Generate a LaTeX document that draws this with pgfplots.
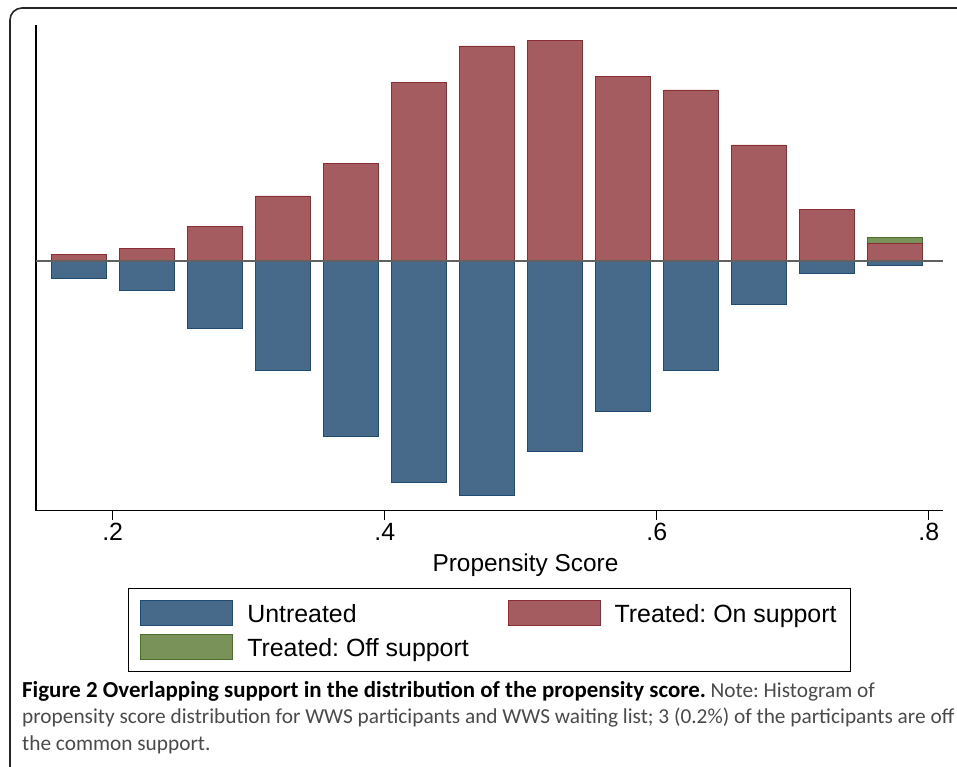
\documentclass[border=0pt]{standalone}
\usepackage{fontspec}
\setmainfont{Liberation Sans}
\newfontfamily\capfont{Carlito}
\usepackage{pgfplots}
\usepackage{pgfplotstable}
\pgfplotsset{compat=1.18}
\frenchspacing
\definecolor{untr}{HTML}{486A8A}
\definecolor{untredge}{HTML}{1F4A72}
\definecolor{tron}{HTML}{A55C60}
\definecolor{tronedge}{HTML}{8A2E36}
\definecolor{troff}{HTML}{78925A}
\definecolor{troffedge}{HTML}{4E6E2E}
\definecolor{notegray}{HTML}{4A4A4A}
\pgfplotstableread{
x untreated on
0.175 -17 6.3
0.225 -29.5 12.3
0.275 -67 34.7
0.325 -109 65
0.375 -175 97.7
0.425 -221 178.7
0.475 -234 215
0.525 -190.3 220.7
0.575 -150.7 184.7
0.625 -109 171
0.675 -43 116
0.725 -12.3 51.7
0.775 -4.3 17.7
}\data
\pgfplotstableread{
x off
0.775 23.3
}\offdata
\begin{document}
\begin{tikzpicture}
\useasboundingbox (0,0) rectangle (957bp,767bp);
\draw[line width=1.6bp, black!85, rounded corners=12bp] (10bp,759bp) rectangle (990bp,-30bp);
\begin{axis}[
  at={(36bp,256.3bp)}, anchor=south west,
  scale only axis, width=907.3bp, height=485.7bp,
  xmin=0.1436, xmax=0.8107, ymin=-249.7, ymax=236,
  axis x line*=bottom, axis y line*=left,
  axis line style={line width=1.2bp, -},
  ytick=\empty,
  xtick={0.2,0.4,0.6,0.8}, xticklabels={.2,.4,.6,.8},
  tick align=outside, major tick length=9bp,
  tick style={black, line width=1.2bp},
  xticklabel style={font=\fontsize{25}{30}\selectfont},
  xlabel={Propensity Score},
  xlabel style={font=\fontsize{24.5}{29}\selectfont, at={(axis description cs:0.5395,-0.1256)}, anchor=base},
  legend image code/.code={\draw[#1] (0bp,-11bp) rectangle (92bp,14bp);},
  legend columns=2, legend cell align=left,
  legend style={at={(axis description cs:0.1014,-0.1592)}, anchor=north west,
    draw=black, line width=1bp, font=\fontsize{25}{29}\selectfont,
    inner xsep=12bp, inner ysep=11.5bp, row sep=8bp,
    /tikz/every odd column/.append style={column sep=12bp},
    /tikz/every even column/.append style={column sep=37bp}},
]
\addlegendimage{fill=untr, draw=untredge, line width=0.8bp}
\addlegendentry{Untreated}
\addlegendimage{fill=tron, draw=tronedge, line width=0.8bp}
\addlegendentry{Treated: On support}
\addlegendimage{fill=troff, draw=troffedge, line width=0.8bp}
\addlegendentry{Treated: Off support}
\addplot[ybar, bar width=0.04, bar shift=0pt, fill=untr, draw=untredge, line width=0.8bp, forget plot] table[x=x, y=untreated]{\data};
\addplot[ybar, bar width=0.04, bar shift=0pt, fill=troff, draw=troffedge, line width=0.8bp, forget plot] table[x=x, y=off]{\offdata};
\addplot[ybar, bar width=0.04, bar shift=0pt, fill=tron, draw=tronedge, line width=0.8bp, forget plot] table[x=x, y=on]{\data};
\addplot[forget plot, color=black!62, line width=2bp] coordinates {(0.1436,0) (0.8107,0)};
\end{axis}
\node[anchor=base west, inner sep=0pt, font=\capfont\fontsize{21.4}{26}\selectfont] at (22bp,69bp)
  {{\fontsize{23}{26}\selectfont\bfseries Figure 2 Overlapping support in the distribution of the propensity score.} \textcolor{notegray}{Note: Histogram of}};
\node[anchor=base west, inner sep=0pt, font=\capfont\fontsize{21.4}{26}\selectfont, text=notegray] at (22bp,43bp)
  {propensity score distribution for WWS participants and WWS waiting list; 3 (0.2\%) of the participants are off};
\node[anchor=base west, inner sep=0pt, font=\capfont\fontsize{21.4}{26}\selectfont, text=notegray] at (22bp,17bp)
  {the common support.};
\end{tikzpicture}
\end{document}
